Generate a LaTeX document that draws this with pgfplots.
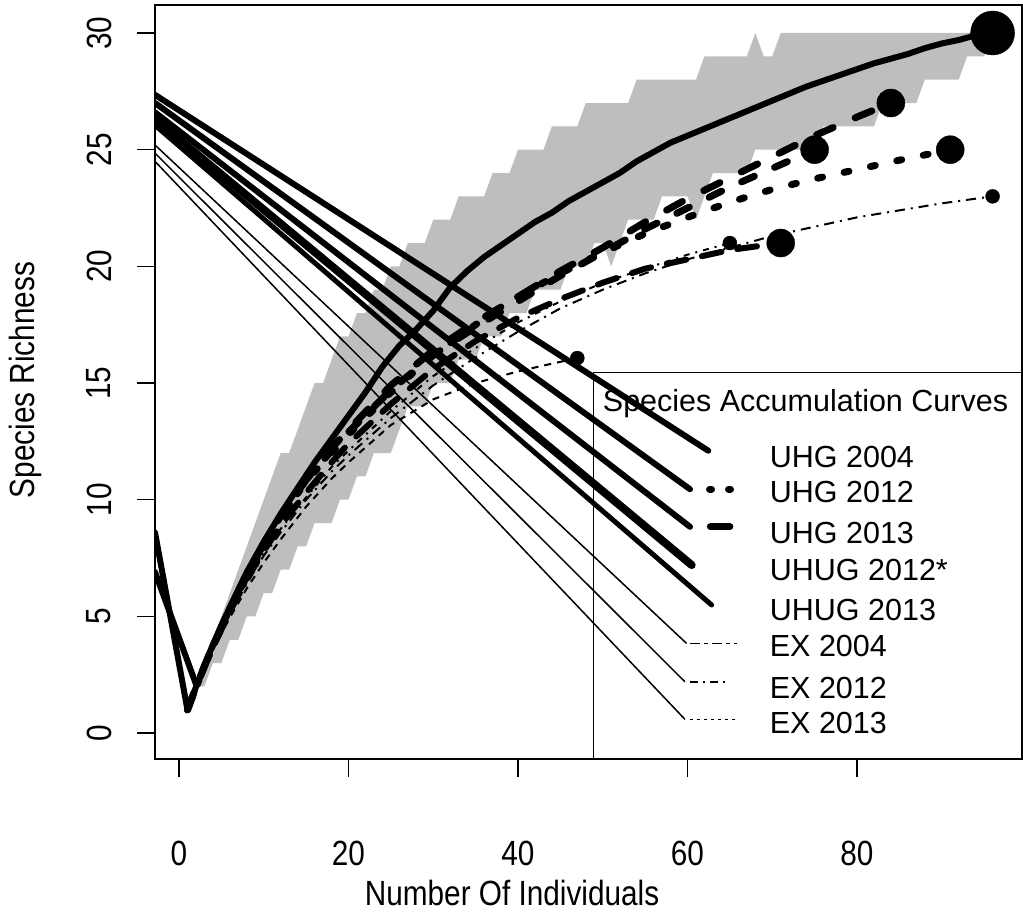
\documentclass[border=0pt]{standalone}
\usepackage{fontspec}
\setmainfont{Liberation Sans}
\newfontfamily\narrowfont[FakeStretch=0.85]{Liberation Sans}
\usepackage{pgfplots}
\pgfplotsset{compat=1.18}
\definecolor{bandgray}{RGB}{190,190,190}
\newcommand{\legfont}{\fontsize{30.5bp}{36bp}\selectfont}
\newcommand{\axfont}{\narrowfont\fontsize{35bp}{40bp}\selectfont}
\begin{document}
\begin{tikzpicture}
\path[use as bounding box] (-155bp,-154bp) rectangle (868bp,759bp);
\begin{axis}[
    at={(0,0)}, anchor=south west,
    scale only axis,
    width=867bp, height=754bp,
    xmin=-2.83, xmax=99.47,
    ymin=-1.11, ymax=31.2,
    xtick={0,20,40,60,80},
    ytick={0,5,10,15,20,25,30},
    tick pos=left,
    tick align=outside,
    major tick length=18bp,
    every tick/.style={black, line width=1.5bp},
    axis line style={line width=2bp},
    /pgf/number format/assume math mode=true,
    xticklabel style={font=\axfont, anchor=center, yshift=-76bp},
    yticklabel style={font=\axfont, xshift=-38bp, rotate=90, anchor=center},
    xlabel={Number Of Individuals},
    ylabel={Species Richness},
    every axis x label/.style={at={(axis description cs:0.4118,0)}, anchor=center, yshift=-134bp, font=\axfont},
    every axis y label/.style={at={(axis description cs:0,0.5027)}, xshift=-130bp, rotate=90, anchor=center, font=\axfont},
]
% confidence band of UHG 2004 (upper staircase, then lower staircase backwards)
\addplot[fill=bandgray, draw=none] coordinates {
(1,1) (2,2) (3,3) (4,4) (5,5) (6,6) (7,7) (8,8) (9,9) (10,10) (11,11) (12,12)
(13,12) (14,13) (15,14) (16,15) (17,15) (18,16) (19,17) (20,17) (21,18) (22,18)
(23,19) (24,19) (25,20) (26,20) (27,21) (28,21) (29,21) (30,22) (31,22) (32,22)
(33,23) (34,23) (35,23) (36,23) (37,24) (38,24) (39,24) (40,25) (41,25) (42,25)
(43,25) (44,26) (45,26) (46,26) (47,26) (48,27) (53,27) (54,28) (61,28) (62,29)
(67,29) (68,30) (69,29) (70,29) (71,30) (96,30)
(96,30) (95,29) (93,29) (92,28) (88,28) (87,27) (83,27) (82,26) (76,26) (75,25)
(68,25) (67,24) (63,24) (62,23) (61,22) (60,23) (57,23) (56,22) (53,22) (52,21)
(51,20) (50,21) (49,21) (48,20) (46,20) (45,19) (42,19) (41,18) (39,18) (38,17)
(36,17) (35,16) (33,16) (32,15) (30,15) (29,14) (27,14) (26,13) (25,12) (23,12)
(22,11) (21,11) (20,10) (19,10) (18,9) (16,9) (15,8) (14,8) (13,7) (12,7) (11,6)
(10,6) (9,5) (8,5) (7,4) (6,4) (5,3) (4,3) (3,2) (2,2) (1,1)
};
% UHG 2004
\addplot[line width=6bp, line join=round] coordinates {
(1,1) (2,1.97) (3,2.9) (4,3.8) (6,5.4) (8,6.9) (10,8.2) (12,9.4) (14,10.5) (16,11.6)
(18,12.6) (20,13.6) (22,14.6) (24,15.7) (26,16.6) (28,17.3) (30,18.1) (32,19.1)
(34,19.8) (36,20.4) (38,20.9) (40,21.4) (42,21.9) (44,22.3) (46,22.8) (48,23.2)
(50,23.6) (52,24.0) (54,24.5) (56,24.9) (58,25.3) (60,25.6) (62,25.9) (64,26.2)
(66,26.5) (68,26.8) (70,27.1) (72,27.4) (74,27.7) (76,27.95) (78,28.2) (80,28.45)
(82,28.7) (84,28.9) (86,29.1) (88,29.35) (90,29.55) (92,29.7) (94,29.9) (96,30)
};
% UHG 2012
\addplot[line width=7bp, line cap=round, dash pattern=on 5bp off 22bp] coordinates {
(1,1) (2,1.95) (3,2.85) (4,3.7) (6,5.3) (8,6.7) (10,8.0) (12,9.2) (15,10.8) (18,12.0)
(20,12.8) (25,14.6) (30,16.2) (35,17.5) (40,18.7) (45,19.7) (50,20.6) (55,21.4)
(60,22.1) (65,22.75) (70,23.3) (75,23.75) (80,24.15) (85,24.55) (91,25.0)
};
% UHG 2013
\addplot[line width=7bp, line cap=round, dash pattern=on 18bp off 24bp] coordinates {
(1,1) (2,1.96) (3,2.87) (4,3.75) (6,5.35) (8,6.8) (10,8.1) (12,9.3) (15,10.9) (18,12.2)
(20,13.0) (25,14.9) (30,16.4) (35,17.6) (40,18.7) (45,19.8) (50,20.8) (55,21.9)
(60,22.9) (65,23.8) (70,24.7) (75,25.6) (80,26.4) (84,27)
};
% UHUG 2012*
\addplot[line width=7bp, line cap=round, dash pattern=on 14bp off 22bp] coordinates {
(1,1) (2,1.95) (3,2.86) (4,3.72) (6,5.3) (8,6.75) (10,8.05) (12,9.25) (15,10.85)
(18,12.1) (20,12.9) (25,14.7) (30,16.2) (35,17.4) (40,18.5) (45,19.6) (50,20.6)
(55,21.6) (60,22.5) (65,23.4) (70,24.2) (75,25)
};
% UHUG 2013
\addplot[line width=6bp, line cap=round, dash pattern=on 20bp off 16bp] coordinates {
(1,1) (2,1.94) (3,2.83) (4,3.68) (6,5.2) (8,6.6) (10,7.8) (12,8.9) (15,10.3) (18,11.6)
(20,12.4) (25,14.1) (30,15.6) (35,16.8) (40,17.8) (45,18.6) (50,19.3) (55,19.9)
(60,20.3) (65,20.7) (71,21)
};
% EX 2004
\addplot[line width=2bp, dash pattern=on 10bp off 6bp on 2bp off 6bp] coordinates {
(1,1) (2,1.93) (3,2.8) (4,3.6) (6,5.1) (8,6.4) (10,7.6) (12,8.6) (15,10.0) (18,11.2)
(20,11.9) (25,13.5) (30,14.9) (35,16.1) (40,17.2) (45,18.2) (50,19.0) (55,19.7)
(60,20.3) (65,20.8) (70,21.3) (75,21.7) (80,22.1) (85,22.4) (90,22.7) (96,23)
};
% EX 2012
\addplot[line width=2bp, dash pattern=on 6bp off 6bp on 2bp off 6bp] coordinates {
(1,1) (2,1.93) (3,2.82) (4,3.65) (6,5.15) (8,6.5) (10,7.7) (12,8.75) (15,10.1) (18,11.4)
(20,12.1) (25,13.8) (30,15.3) (35,16.5) (40,17.6) (45,18.5) (50,19.3) (55,19.9)
(60,20.5) (65,21)
};
% EX 2013
\addplot[line width=2bp, dash pattern=on 7bp off 6bp] coordinates {
(1,1) (2,1.92) (3,2.78) (4,3.55) (6,4.95) (8,6.2) (10,7.3) (12,8.3) (15,9.7) (18,10.9)
(20,11.6) (25,13.2) (30,14.3) (35,15.0) (40,15.5) (43,15.75) (47,16.07)
};
% straight lines running to the legend keys
\addplot[line width=6bp, line cap=round] coordinates {(-2.83,27.35) (62.45,12.1)};
\addplot[line width=6bp, line cap=round] coordinates {(-2.83,27.0) (60.3,10.45)};
\addplot[line width=6bp, line cap=round] coordinates {(-2.83,26.6) (60.3,8.84)};
\addplot[line width=8bp, line cap=round] coordinates {(-2.83,26.3) (60.5,7.2)};
\addplot[line width=5bp, line cap=round] coordinates {(-2.83,26.05) (62.85,5.49)};
\addplot[line width=1.5bp] coordinates {(-2.83,25.2) (59.9,3.84)};
\addplot[line width=1.5bp] coordinates {(-2.83,24.85) (59.7,2.2)};
\addplot[line width=1.5bp] coordinates {(-2.83,24.5) (59.7,0.59)};
% lines down to the first point
\addplot[line width=6bp, line cap=round] coordinates {(-2.83,8.6) (1,1)};
\addplot[line width=6bp, line cap=round] coordinates {(-2.83,6.9) (2,2.1)};
% end points
\addplot[only marks, mark=*, mark size=22bp] coordinates {(96,30)};
\addplot[only marks, mark=*, mark size=14bp] coordinates {(91,25) (84,27) (75,25) (71,21)};
\addplot[only marks, mark=*, mark size=7bp] coordinates {(96,23) (65,21) (47,16.07)};
% legend frame and keys
\addplot[line width=1.5bp] coordinates {(48.9,-2) (48.9,15.45) (101,15.45)};
\addplot[line width=7bp, line cap=round, dash pattern=on 2bp off 17bp] coordinates {(62.6,10.45) (66.0,10.45)};
\addplot[line width=7bp, line cap=round] coordinates {(62.7,8.84) (65.0,8.84)};
\addplot[line width=1.5bp, dash pattern=on 10bp off 4bp on 4bp off 4bp] coordinates {(60.3,3.84) (65.8,3.84)};
\addplot[line width=1.5bp, dash pattern=on 8bp off 5bp on 2bp off 5bp] coordinates {(60.3,2.2) (64.9,2.2)};
\addplot[line width=1.5bp, dash pattern=on 3bp off 4bp] coordinates {(60.3,0.59) (65.6,0.59)};
\node[anchor=west, font=\legfont, inner sep=0pt] at (axis cs:50.0,14.14) {Species Accumulation Curves};
\node[anchor=west, font=\legfont, inner sep=0pt] at (axis cs:69.7,11.84) {UHG 2004};
\node[anchor=west, font=\legfont, inner sep=0pt] at (axis cs:69.7,10.34) {UHG 2012};
\node[anchor=west, font=\legfont, inner sep=0pt] at (axis cs:69.7,8.57) {UHG 2013};
\node[anchor=west, font=\legfont, inner sep=0pt] at (axis cs:69.7,6.99) {UHUG 2012*};
\node[anchor=west, font=\legfont, inner sep=0pt] at (axis cs:69.7,5.27) {UHUG 2013};
\node[anchor=west, font=\legfont, inner sep=0pt] at (axis cs:69.7,3.73) {EX 2004};
\node[anchor=west, font=\legfont, inner sep=0pt] at (axis cs:69.7,1.93) {EX 2012};
\node[anchor=west, font=\legfont, inner sep=0pt] at (axis cs:69.7,0.43) {EX 2013};
\end{axis}
\end{tikzpicture}
\end{document}
